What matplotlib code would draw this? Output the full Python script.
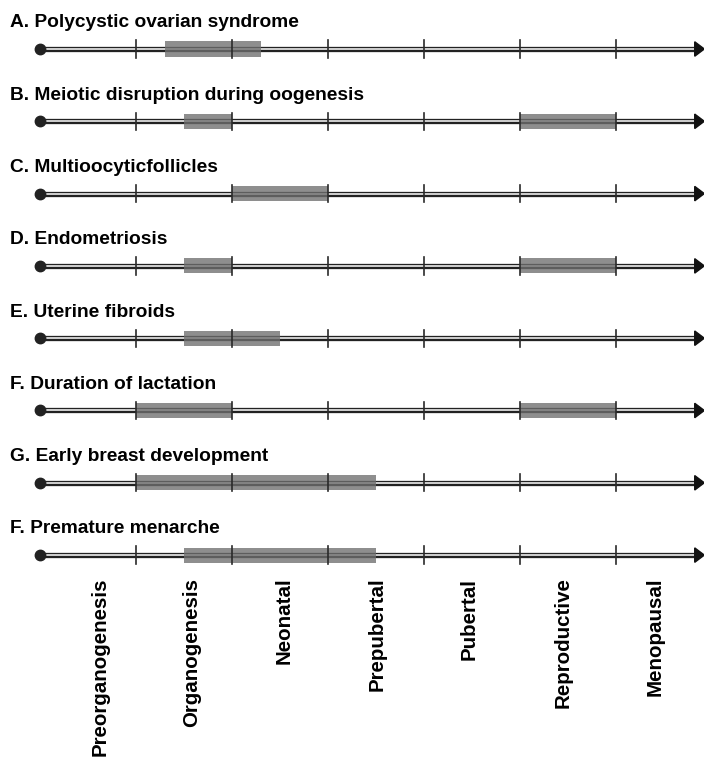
import matplotlib.pyplot as plt
import matplotlib.patches as patches

# timeline rows (top to bottom), titles kept as in the source figure
titles = [
    "A. Polycystic ovarian syndrome",
    "B. Meiotic disruption during oogenesis",
    "C. Multioocyticfollicles",
    "D. Endometriosis",
    "E. Uterine fibroids",
    "F. Duration of lactation",
    "G. Early breast development",
    "F. Premature menarche",
]
# shaded windows of susceptibility, in stage units (0 = start dot, ticks at 1..6)
windows = [
    [(1.3, 2.3)],
    [(1.5, 2.0), (5.0, 6.0)],
    [(2.0, 3.0)],
    [(1.5, 2.0), (5.0, 6.0)],
    [(1.5, 2.5)],
    [(1.0, 2.0), (5.0, 6.0)],
    [(1.0, 3.5)],
    [(1.5, 3.5)],
]
stages = ["Preorganogenesis", "Organogenesis", "Neonatal", "Prepubertal",
          "Pubertal", "Reproductive", "Menopausal"]
tick_pos = [1, 2, 3, 4, 5, 6]

plt.rcParams['font.family'] = ['Liberation Sans', 'DejaVu Sans']

fig = plt.figure(figsize=(7.04, 7.69), dpi=100)
ax = fig.add_axes([0, 0, 1, 1])
ax.set_xlim(-40 / 96, 664 / 96)
ax.set_ylim((769 - 49) / 72.3, -49 / 72.3)
ax.axis("off")

x_end = 6.92
for i, title in enumerate(titles):
    y = i
    ax.text(-0.31, y - 0.3, title, fontsize=13.8, fontweight="bold",
            ha="left", va="baseline")
    # double line: dark thick line with a thin white core
    ax.plot([0, x_end - 0.08], [y, y], color="#222222", lw=3.8, zorder=2,
            solid_capstyle="butt")
    ax.plot([0, x_end - 0.08], [y, y], color="white", lw=1.1, zorder=3,
            solid_capstyle="butt")
    ax.plot(0, y, "o", color="#222222", ms=7.5, zorder=5)
    ax.add_patch(patches.Polygon([[x_end - 0.1, y - 0.1], [x_end - 0.1, y + 0.1], [x_end, y]],
                                 closed=True, color="#111111", zorder=5, clip_on=False))
    for a, b in windows[i]:
        ax.add_patch(patches.Rectangle((a, y - 0.104), b - a, 0.208, facecolor="#6e6e6e",
                                       edgecolor="none", alpha=0.78, zorder=4))
    for t in tick_pos:
        ax.plot([t, t], [y - 0.12, y + 0.12], color="#2a2a2a", lw=1.2, zorder=6)

label_x = [0.63, 1.58, 2.54, 3.51, 4.47, 5.45, 6.41]
for lx, name in zip(label_x, stages):
    ax.text(lx, 7.31, name, rotation=90, fontsize=14.8, fontweight="bold",
            ha="center", va="top")

fig.savefig("out.png", dpi=100)
